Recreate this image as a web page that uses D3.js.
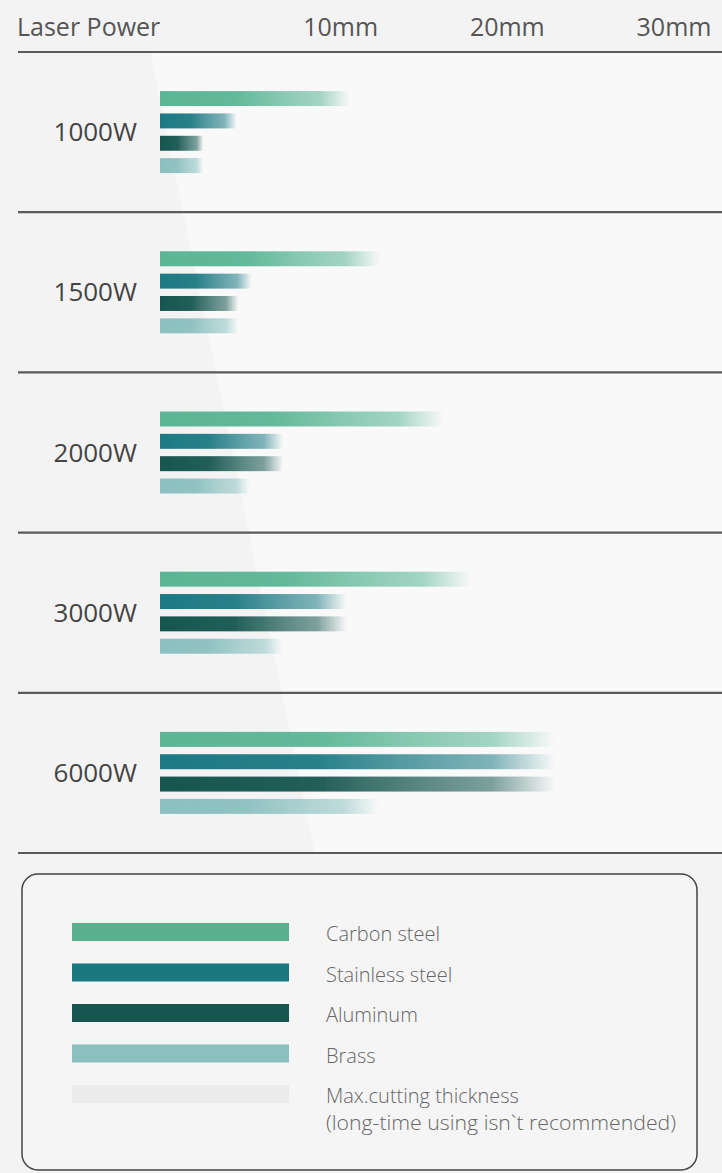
<!DOCTYPE html>
<html>
<head>
<meta charset="utf-8">
<script src="https://cdn.jsdelivr.net/npm/d3@7"></script>
<style>
  html, body { margin: 0; padding: 0; background: #f4f4f4; }
  svg { display: block; font-family: "Open Sans", "Noto Sans", sans-serif; }
</style>
</head>
<body>
<div id="chart"></div>
<script>
// laser power rows and materials
const powers = ['1000W', '1500W', '2000W', '3000W', '6000W']
const materials = ['Carbon steel', 'Stainless steel', 'Aluminum', 'Brass']
const colors = ['#5cb595', '#1d7a84', '#175650', '#8cc0c0']

// max cutting thickness in mm, one array per material (same order as powers)
const carbonSteel = [11.4, 13.2, 17.0, 18.7, 23.7]
const stainlessSteel = [4.6, 5.5, 7.4, 11.2, 23.7]
const aluminum = [2.6, 4.7, 7.4, 11.2, 23.7]
const brass = [2.6, 4.7, 5.4, 7.4, 13.1]

const ticks = [10, 20, 30]
const legendLabels = ['Carbon steel', 'Stainless steel', 'Aluminum', 'Brass', 'Max.cutting thickness']
const legendNote = '(long-time using isn`t recommended)'
const legendColors = ['#5aaf8f', '#1a7880', '#165550', '#8bbfc0', '#ebebeb']

const width = 722, height = 1173
const series = [carbonSteel, stainlessSteel, aluminum, brass]

const svg = d3.select('#chart').append('svg')
  .attr('width', width)
  .attr('height', height)

const x = d3.scaleLinear().domain([0, 30]).range([160, 660])
const row = d3.scaleBand().domain(powers).range([52, 853])
const inner = d3.scaleBand().domain(materials).range([-41, 41]).paddingInner(0.33)

// background with the lighter diagonal band
svg.append('rect').attr('width', width).attr('height', height).attr('fill', '#f3f3f3')
svg.append('path')
  .attr('d', 'M150,52 L722,52 L722,853 L315,853 Z')
  .attr('fill', '#f9f9f9')

const defs = svg.append('defs')
defs.append('filter').attr('id', 'soft')
  .append('feGaussianBlur').attr('stdDeviation', 0.6)

materials.forEach(function(m, i) {
  const light = d3.interpolateRgb(colors[i], '#ffffff')(0.3)
  const g = defs.append('linearGradient').attr('id', 'grad' + i)
  g.append('stop').attr('offset', '0%').attr('stop-color', colors[i]).attr('stop-opacity', 1)
  g.append('stop').attr('offset', '40%').attr('stop-color', colors[i]).attr('stop-opacity', 0.95)
  g.append('stop').attr('offset', '84%').attr('stop-color', light).attr('stop-opacity', 0.8)
  g.append('stop').attr('offset', '100%').attr('stop-color', light).attr('stop-opacity', 0)
})

// header
svg.append('text')
  .attr('x', 17).attr('y', 36)
  .attr('font-size', 25).attr('fill', '#555')
  .text('Laser Power')

svg.selectAll('.tick')
  .data(ticks)
  .enter().append('text')
    .attr('class', 'tick')
    .attr('x', function(d) { return x(d) + 14 })
    .attr('y', 36)
    .attr('text-anchor', 'middle')
    .attr('font-size', 25).attr('fill', '#555')
    .text(function(d) { return d + 'mm' })

// separators
const seps = [52].concat(powers.map(function(p) { return row(p) + row.bandwidth() }))
svg.selectAll('.sep')
  .data(seps)
  .enter().append('line')
    .attr('class', 'sep')
    .attr('x1', 18).attr('x2', width)
    .attr('y1', function(d) { return d }).attr('y2', function(d) { return d })
    .attr('stroke', '#5a5a5a').attr('stroke-width', 2.2)

// rows
const rows = svg.selectAll('.row')
  .data(powers)
  .enter().append('g')
    .attr('class', 'row')
    .attr('transform', function(d) { return 'translate(0,' + (row(d) + row.bandwidth() / 2) + ')' })

rows.append('text')
  .attr('x', 137).attr('y', 0).attr('dy', '0.35em')
  .attr('text-anchor', 'end')
  .attr('font-size', 26).attr('fill', '#444')
  .text(function(d) { return d })

rows.selectAll('rect')
  .data(function(p, pi) {
    return materials.map(function(m, mi) { return { m: m, mi: mi, v: series[mi][pi] } })
  })
  .enter().append('rect')
    .attr('x', x(0))
    .attr('y', function(d) { return inner(d.m) })
    .attr('width', function(d) { return x(d.v) - x(0) })
    .attr('height', inner.bandwidth())
    .attr('fill', function(d) { return 'url(#grad' + d.mi + ')' })
    .attr('filter', 'url(#soft)')

// legend
const legend = svg.append('g')
legend.append('rect')
  .attr('x', 22).attr('y', 874)
  .attr('width', 675).attr('height', 296)
  .attr('rx', 16)
  .attr('fill', '#f5f5f5')
  .attr('stroke', '#444').attr('stroke-width', 1.5)

const ly = d3.scalePoint().domain(legendLabels).range([923, 1085])

legend.selectAll('.swatch')
  .data(legendLabels)
  .enter().append('rect')
    .attr('class', 'swatch')
    .attr('x', 72).attr('y', function(d) { return ly(d) })
    .attr('width', 217).attr('height', 18)
    .attr('fill', function(d, i) { return legendColors[i] })

legend.selectAll('.label')
  .data(legendLabels)
  .enter().append('text')
    .attr('class', 'label')
    .attr('x', 326).attr('y', function(d) { return ly(d) + 18 })
    .attr('font-size', 20).attr('font-weight', 300).attr('fill', '#666')
    .text(function(d) { return d })

legend.append('text')
  .attr('x', 326).attr('y', ly(legendLabels[4]) + 45)
  .attr('font-size', 20).attr('font-weight', 300).attr('fill', '#666')
  .attr('textLength', 350).attr('lengthAdjust', 'spacingAndGlyphs')
  .text(legendNote)
</script>
</body>
</html>
